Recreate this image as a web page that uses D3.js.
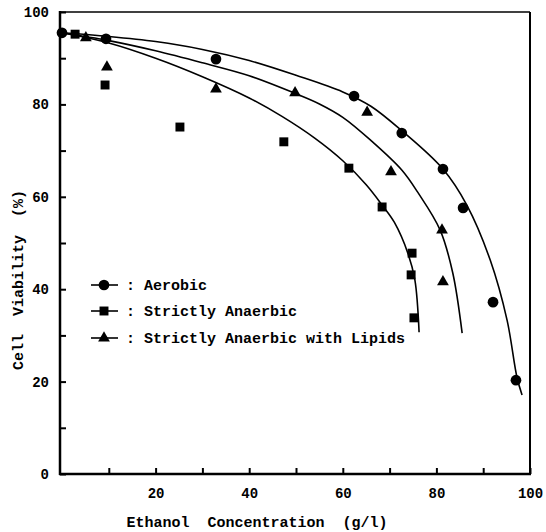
<!DOCTYPE html>
<html>
<head>
<meta charset="utf-8">
<script src="https://cdn.jsdelivr.net/npm/d3@7"></script>
<style>
  body { margin: 0; background: #fff; }
  text { font-family: "Liberation Mono", "Courier New", monospace; font-weight: bold; fill: #000; }
</style>
</head>
<body>
<script>
// measured points (ethanol g/l, viability %)
var aerobicX = [0, 9.4, 32.9, 62.4, 72.6, 81.4, 85.7, 92.1, 97.0];
var aerobicY = [95.5, 94.2, 89.8, 81.8, 73.8, 66.0, 57.6, 37.2, 20.3];
var anaerobicX = [2.8, 9.2, 25.2, 47.4, 61.3, 68.4, 74.8, 74.6, 75.2];
var anaerobicY = [95.2, 84.2, 75.1, 71.9, 66.2, 57.8, 47.8, 43.1, 33.8];
var lipidsX = [5.1, 9.6, 32.9, 49.8, 65.2, 70.3, 81.2, 81.4];
var lipidsY = [94.4, 88.1, 83.3, 82.5, 78.3, 65.4, 52.8, 41.6];

// fitted curves
var aerobicFitX = [0, 10, 20, 30, 40, 50, 60, 66, 72.6, 81.4, 86.5, 91.5, 95.1, 97.2, 98.3];
var aerobicFitY = [95.5, 94.7, 93.6, 91.9, 89.5, 86.3, 82.7, 79.6, 74.3, 66.0, 58.2, 46.3, 33.3, 21.0, 17.1];
var lipidsFitX = [0, 10, 20, 30, 40, 50, 55, 60, 66, 72.6, 76, 80.8, 83.5, 85.5];
var lipidsFitY = [95.5, 93.8, 91.6, 89.0, 86.2, 82.3, 80.1, 77.2, 72.2, 65.8, 61.0, 52.8, 43.5, 30.5];
var anaerobicFitX = [0, 10, 20, 30, 40, 47, 54, 60, 65, 68.4, 71, 73.9, 75.4, 76.3];
var anaerobicFitY = [95.5, 93.3, 90.0, 86.0, 81.4, 77.4, 72.7, 67.8, 62.6, 58.2, 54.5, 47.8, 42.0, 30.7];

var xTicks = [10, 20, 30, 40, 50, 60, 70, 80, 90, 100];
var yTicks = [0, 10, 20, 30, 40, 50, 60, 70, 80, 90, 100];
var legendLabels = [": Aerobic", ": Strictly Anaerbic", ": Strictly Anaerbic with Lipids"];
var legendShapes = ["circle", "square", "triangle"];

var w = 546, h = 532;
var svg = d3.select("body").append("svg")
    .attr("width", w)
    .attr("height", h);

var x = d3.scaleLinear().domain([0, 100]).range([62, 530]);
var y = d3.scaleLinear().domain([0, 100]).range([474, 12]);

function zip(xs, ys) {
  return xs.map(function(d, i) { return [d, ys[i]]; });
}

// frame: top & right thin, left & bottom heavy
svg.append("line").attr("x1", 60).attr("x2", 530).attr("y1", y(100)).attr("y2", y(100))
   .attr("stroke", "#000").attr("stroke-width", 1.5);
svg.append("line").attr("x1", 530).attr("x2", 530).attr("y1", y(100)).attr("y2", y(0))
   .attr("stroke", "#000").attr("stroke-width", 2);
svg.append("line").attr("x1", 60).attr("x2", 60).attr("y1", y(100) - 1).attr("y2", y(0) + 1)
   .attr("stroke", "#000").attr("stroke-width", 2.5);
svg.append("line").attr("x1", 59).attr("x2", 531).attr("y1", y(0)).attr("y2", y(0))
   .attr("stroke", "#000").attr("stroke-width", 2.5);

// axes with inward ticks
var yAxis = d3.axisLeft(y).tickValues(yTicks).tickSize(-6).tickPadding(11)
    .tickFormat(function(d) { return d % 20 === 0 ? d : ""; });
var gy = svg.append("g").attr("transform", "translate(60,0)").call(yAxis);
gy.select(".domain").remove();
gy.selectAll("line").attr("stroke-width", 2);
gy.selectAll("text").style("font-size", "14px");

var xAxis = d3.axisBottom(x).tickValues(xTicks).tickSize(-6).tickPadding(14)
    .tickFormat(function(d) { return d % 20 === 0 ? d : ""; });
var gx = svg.append("g").attr("transform", "translate(0," + y(0) + ")").call(xAxis);
gx.select(".domain").remove();
gx.selectAll("line").attr("stroke-width", 2);
gx.selectAll("text").style("font-size", "14px");

// axis titles
svg.append("text")
   .attr("transform", "translate(23,280) rotate(-90)")
   .attr("text-anchor", "middle")
   .style("font-size", "15px")
   .attr("xml:space", "preserve")
   .text("Cell  Viability  (%)");
svg.append("text")
   .attr("x", 257).attr("y", 527)
   .attr("text-anchor", "middle")
   .style("font-size", "15px")
   .attr("xml:space", "preserve")
   .text("Ethanol  Concentration  (g/l)");

// curves
var line = d3.line()
    .x(function(d) { return x(d[0]); })
    .y(function(d) { return y(d[1]); })
    .curve(d3.curveCatmullRom.alpha(0.5));
[zip(aerobicFitX, aerobicFitY), zip(lipidsFitX, lipidsFitY), zip(anaerobicFitX, anaerobicFitY)]
  .forEach(function(pts) {
    svg.append("path").attr("d", line(pts))
       .attr("fill", "none").attr("stroke", "#000").attr("stroke-width", 1.6);
  });

// markers
var sym = {
  circle: d3.symbol().type(d3.symbolCircle).size(90),
  square: d3.symbol().type(d3.symbolSquare).size(80),
  triangle: d3.symbol().type(d3.symbolTriangle).size(60)
};
function drawPoints(pts, shape) {
  svg.append("g").selectAll("path")
     .data(pts)
     .enter()
     .append("path")
     .attr("d", sym[shape])
     .attr("transform", function(d) { return "translate(" + x(d[0]) + "," + y(d[1]) + ")"; })
     .attr("fill", "#000");
}
drawPoints(zip(aerobicX, aerobicY), "circle");
drawPoints(zip(anaerobicX, anaerobicY), "square");
drawPoints(zip(lipidsX, lipidsY), "triangle");

// legend
var legendY = [285, 311, 338];
var lg = svg.append("g").selectAll("g")
    .data(legendLabels)
    .enter()
    .append("g")
    .attr("transform", function(d, i) { return "translate(0," + legendY[i] + ")"; });
lg.append("line").attr("x1", 91).attr("x2", 118).attr("y1", 0).attr("y2", 0)
  .attr("stroke", "#000").attr("stroke-width", 1.6);
lg.append("path")
  .attr("d", function(d, i) { return sym[legendShapes[i]](); })
  .attr("transform", "translate(104,0)")
  .attr("fill", "#000");
lg.append("text")
  .attr("x", 126).attr("y", 5)
  .style("font-size", "15px")
  .attr("xml:space", "preserve")
  .text(function(d) { return d; });
</script>
</body>
</html>
